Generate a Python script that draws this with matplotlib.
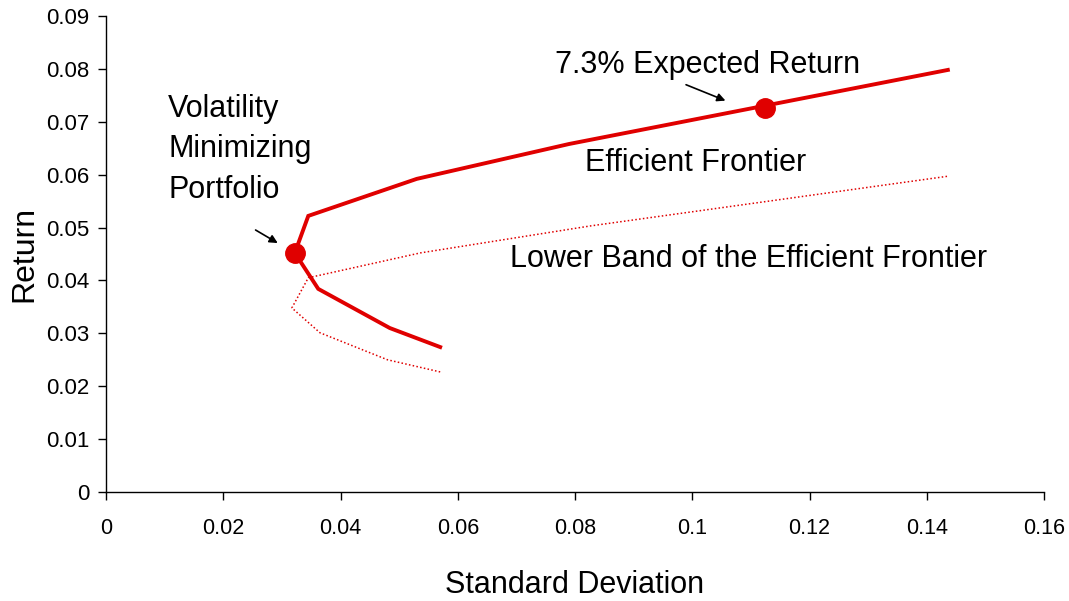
import matplotlib.pyplot as plt

plt.rcParams['font.family'] = ['Liberation Sans', 'DejaVu Sans']

# efficient frontier (upper and lower arm)
ef_sd = [0.0570, 0.0484, 0.0362, 0.0322, 0.0345, 0.0530, 0.0790, 0.1436]
ef_ret = [0.0274, 0.0310, 0.0384, 0.0452, 0.0522, 0.0592, 0.0658, 0.0798]

# lower band of the efficient frontier
lb_sd = [0.0570, 0.0480, 0.0365, 0.0317, 0.0345, 0.0536, 0.0826, 0.1436]
lb_ret = [0.0227, 0.0250, 0.0301, 0.0348, 0.0405, 0.0452, 0.0503, 0.0597]

# highlighted portfolios
pt_sd = [0.0322, 0.1124]
pt_ret = [0.0452, 0.0726]

red = '#E00000'

fig = plt.figure(figsize=(10.69, 6.01), dpi=100)
ax = fig.add_axes([0.0992, 0.1814, 0.8774, 0.792])

ax.plot(ef_sd, ef_ret, color=red, linewidth=2.8, solid_joinstyle='miter')
ax.plot(lb_sd, lb_ret, color=red, linewidth=1.1, linestyle=(0, (1, 1.5)))
ax.plot(pt_sd, pt_ret, 'o', color=red, markersize=14, zorder=5)

ax.set_xlim(0, 0.16)
ax.set_ylim(0, 0.09)
ax.set_xticks([0, 0.02, 0.04, 0.06, 0.08, 0.1, 0.12, 0.14, 0.16])
ax.set_xticklabels(['0', '0.02', '0.04', '0.06', '0.08', '0.1', '0.12', '0.14', '0.16'])
ax.set_yticks([0, 0.01, 0.02, 0.03, 0.04, 0.05, 0.06, 0.07, 0.08, 0.09])
ax.set_yticklabels(['0', '0.01', '0.02', '0.03', '0.04', '0.05', '0.06', '0.07', '0.08', '0.09'])
ax.tick_params(axis='x', direction='out', length=6, width=1, labelsize=15.5, pad=13)
ax.tick_params(axis='y', direction='out', length=6, width=1, labelsize=16, pad=6)
for s in ['top', 'right']:
    ax.spines[s].set_visible(False)
ax.spines['left'].set_linewidth(1)
ax.spines['bottom'].set_linewidth(1)

ax.set_xlabel('Standard Deviation', fontsize=22, labelpad=22)
ax.set_ylabel('Return', fontsize=23, labelpad=5)

# annotations
ax.text(0.0766, 0.0808, '7.3% Expected Return', fontsize=22, va='center', ha='left')
ax.annotate('', xy=(0.1061, 0.0738), xytext=(0.0985, 0.0772),
            arrowprops=dict(arrowstyle='-|>', color='black', lw=1.2, mutation_scale=12))
ax.text(0.0106, 0.0648, 'Volatility\nMinimizing\nPortfolio', fontsize=22,
        va='center', ha='left', linespacing=1.45)
ax.annotate('', xy=(0.0297, 0.0468), xytext=(0.0251, 0.0498),
            arrowprops=dict(arrowstyle='-|>', color='black', lw=1.2, mutation_scale=12))
ax.text(0.1006, 0.0622, 'Efficient Frontier', fontsize=22, va='center', ha='center')
ax.text(0.1096, 0.0440, 'Lower Band of the Efficient Frontier', fontsize=22,
        va='center', ha='center')

fig.savefig('out.png', dpi=100)
